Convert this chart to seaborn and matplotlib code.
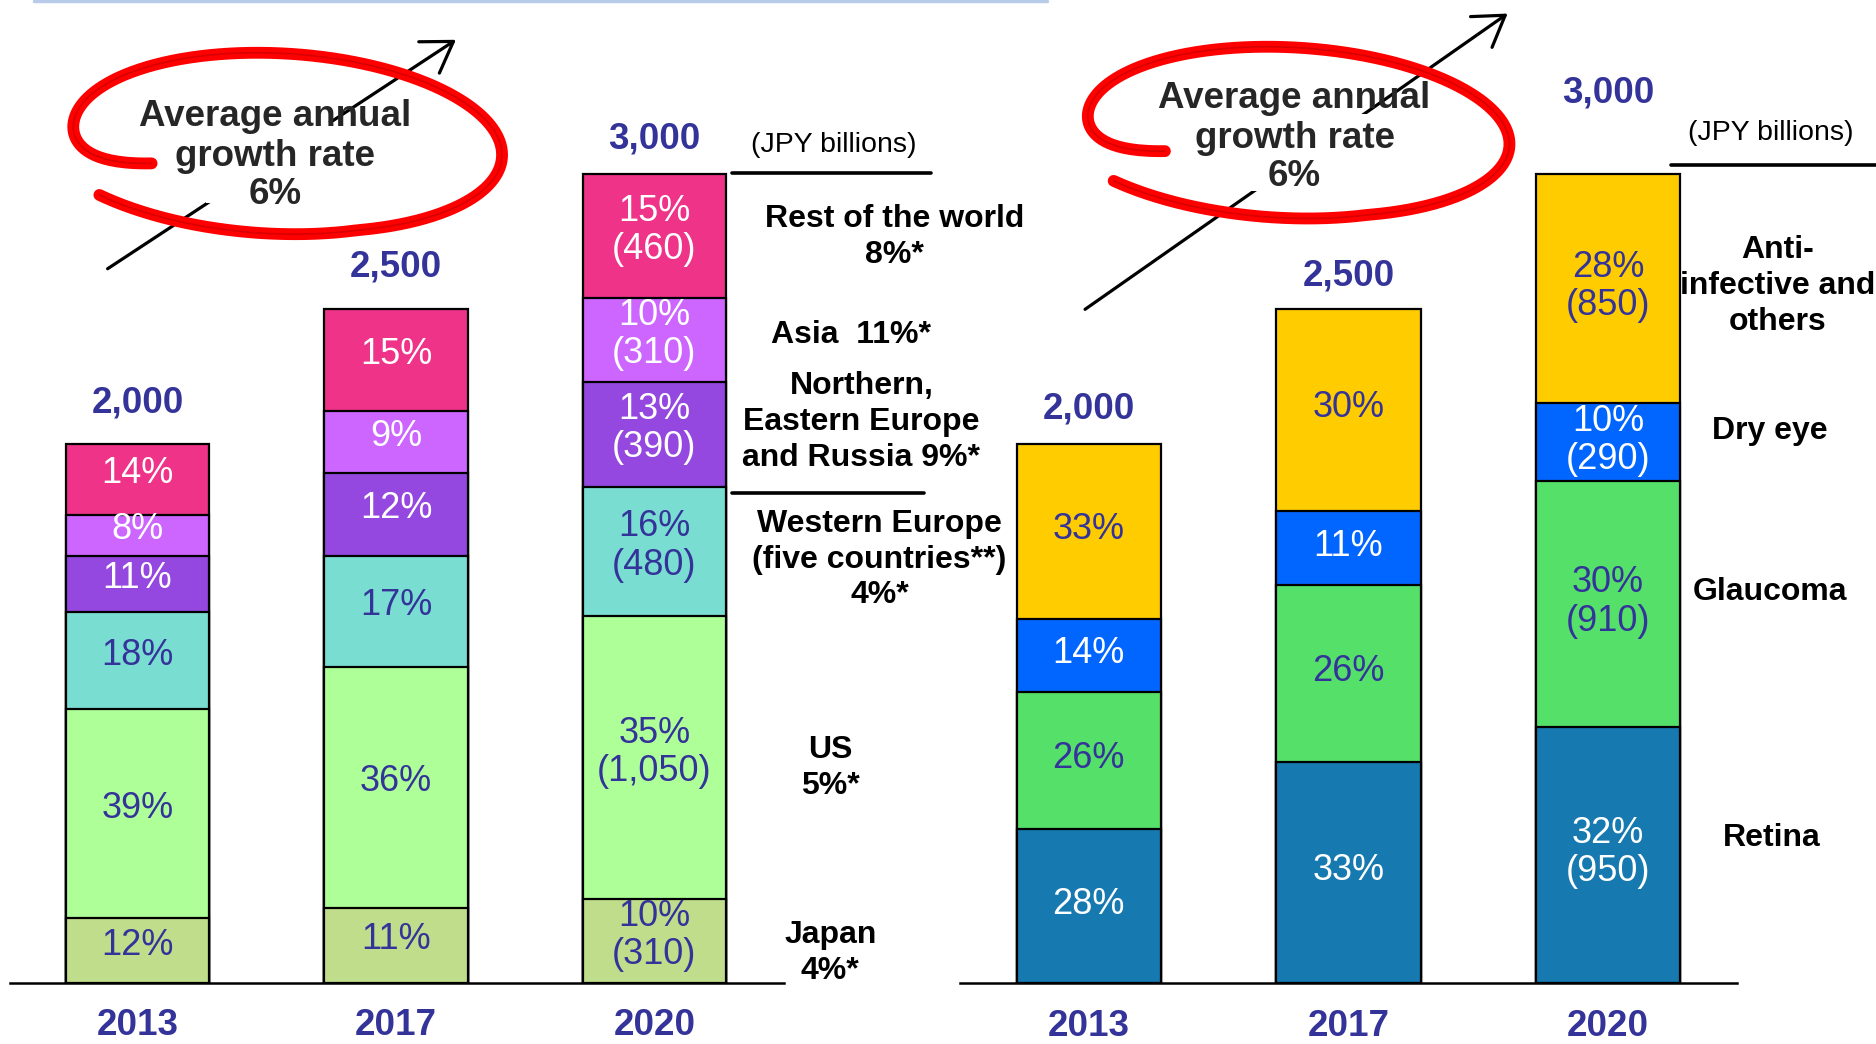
import numpy as np
import pandas as pd
import seaborn as sns
import matplotlib
matplotlib.use("Agg")
import matplotlib.pyplot as plt
from matplotlib import font_manager as fm
from matplotlib.lines import Line2D
from matplotlib.patches import FancyArrowPatch, Rectangle

# ---------------- data ----------------
years = ["2013", "2017", "2020"]
totals = [2000, 2500, 3000]
total_labels = ["2,000", "2,500", "3,000"]

# Left panel: market by region (JPY billions)
region_names = ["Japan", "US", "Western Europe",
                "Northern, Eastern Europe and Russia", "Asia", "Rest of the world"]
japan = [240, 280, 310]
us = [775, 890, 1050]
western_europe = [360, 415, 480]
northern_eastern_europe_russia = [210, 305, 390]
asia = [150, 230, 310]
rest_of_world = [265, 380, 460]
region_values = [japan, us, western_europe, northern_eastern_europe_russia, asia, rest_of_world]
region_labels = [
    ["12%", "11%", "10%\n(310)"],
    ["39%", "36%", "35%\n(1,050)"],
    ["18%", "17%", "16%\n(480)"],
    ["11%", "12%", "13%\n(390)"],
    ["8%", "9%", "10%\n(310)"],
    ["14%", "15%", "15%\n(460)"],
]
region_notes = ["Japan\n4%*", "US\n5%*", "Western Europe\n(five countries**)\n4%*",
                "Northern,\nEastern Europe\nand Russia 9%*", "Asia  11%*",
                "Rest of the world\n8%*"]

# Right panel: market by disease area (JPY billions)
disease_names = ["Retina", "Glaucoma", "Dry eye", "Anti-infective and others"]
retina = [570, 820, 950]
glaucoma = [510, 655, 910]
dry_eye = [270, 275, 290]
anti_infective_others = [650, 750, 850]
disease_values = [retina, glaucoma, dry_eye, anti_infective_others]
disease_labels = [
    ["28%", "33%", "32%\n(950)"],
    ["26%", "26%", "30%\n(910)"],
    ["14%", "11%", "10%\n(290)"],
    ["33%", "30%", "28%\n(850)"],
]
disease_notes = ["Retina", "Glaucoma", "Dry eye", "Anti-\ninfective and\nothers"]

growth_text_top = "Average annual"
growth_text_rest = "growth rate\n6%"
unit_text = "(JPY billions)"

# ---------------- style ----------------
region_colors = ["#C0DD8C", "#AEFF98", "#7ADDD2", "#9448E0", "#CC66FF", "#EE3388"]
region_text_colors = ["#333399", "#333399", "#333399", "white", "white", "white"]
disease_colors = ["#1679B0", "#55E06A", "#0066FF", "#FFCC00"]
disease_text_colors = ["white", "#333399", "white", "#333399"]
NAVY = "#333399"

sns.set_theme(style="white")
plt.rcParams["font.family"] = ["Liberation Sans", "DejaVu Sans"]

names = {f.name for f in fm.fontManager.ttflist}
NARROW = "Liberation Sans Narrow" in names
cond_family = ["Liberation Sans Narrow", "Liberation Sans"] if NARROW else ["Liberation Sans", "DejaVu Sans"]
bar_fs = 31 if NARROW else 26
big_fs = 32 if NARROW else 26.5

W, H = 1568.0, 873.0


def P(x, y):
    return (x / W, 1 - y / H)


fig = plt.figure(figsize=(18.76, 10.44), dpi=100)
fig.patch.set_facecolor("white")

ymax = 2000 * 822 / 451
axL = fig.add_axes([8 / W, 1 - 822 / H, (655 - 8) / W, 822 / H])
axR = fig.add_axes([802 / W, 1 - 822 / H, (1452 - 802) / W, 822 / H])


def stacked(ax, values, colors, labels, text_colors, xlim, total_offsets, label_dy, tick_pad):
    cums = np.cumsum(np.array(values), axis=0)
    # draw from the top layer downwards (classic seaborn stacking)
    for k in range(len(values) - 1, -1, -1):
        df = pd.DataFrame({"year": years, "cum": cums[k]})
        sns.barplot(data=df, x="year", y="cum", color=colors[k], saturation=1,
                    width=0.556, edgecolor="black", linewidth=1.6,
                    errorbar=None, ax=ax, zorder=2)
    for k in range(len(values)):
        for i in range(len(years)):
            bottom = cums[k][i] - values[k][i]
            ax.annotate(labels[k][i], (i, bottom + values[k][i] / 2),
                        xytext=(0, label_dy), textcoords="offset points",
                        ha="center", va="center",
                        fontsize=bar_fs, color=text_colors[k], family=cond_family,
                        linespacing=1.12, zorder=5)
    for i in range(len(years)):
        ax.annotate(total_labels[i], (i, totals[i]), xytext=(0, total_offsets[i]),
                    textcoords="offset points", ha="center", va="center",
                    fontsize=big_fs, fontweight="bold", color=NAVY, family=cond_family)
    ax.set_xlim(*xlim)
    ax.set_ylim(0, ymax)
    ax.set_facecolor("none")
    for s in ["top", "left", "right"]:
        ax.spines[s].set_visible(False)
    ax.spines["bottom"].set_color("black")
    ax.spines["bottom"].set_linewidth(1.8)
    ax.set_yticks([])
    ax.set_xlabel("")
    ax.set_ylabel("")
    ax.set_xticks(range(len(years)))
    ax.set_xticklabels(years, fontsize=big_fs, fontweight="bold", color=NAVY, family=cond_family)
    ax.tick_params(axis="x", length=0, pad=tick_pad)


stacked(axL, region_values, region_colors, region_labels, region_text_colors,
        (-0.495, 2.5), [29, 30, 25], 4, 18)
stacked(axR, disease_values, disease_colors, disease_labels, disease_text_colors,
        (-0.498, 2.498), [25, 24, 58], 1.5, 19)

# ---------------- side notes ----------------
note_fs = 23
region_note_pos = [(694, 797), (694, 642), (735, 468), (720, 353), (711, 280), (748, 198)]
for txt, (x, y) in zip(region_notes, region_note_pos):
    fig.text(*P(x, y), txt, ha="center", va="center", fontsize=note_fs,
             fontweight="bold", color="black", linespacing=1.25)
disease_note_pos = [(1481, 701), (1479, 495), (1479, 360), (1486, 239)]
for txt, (x, y) in zip(disease_notes, disease_note_pos):
    fig.text(*P(x, y), txt, ha="center", va="center", fontsize=note_fs,
             fontweight="bold", color="black", linespacing=1.25)

fig.text(*P(697, 121), unit_text, ha="center", va="center", fontsize=20.5, color="black")
fig.text(*P(1480, 111), unit_text, ha="center", va="center", fontsize=20.5, color="black")

for (x1, y1, x2, y2) in [(612, 145, 778, 145), (612, 412, 772, 412), (1397, 138, 1568, 138)]:
    a, b = P(x1, y1), P(x2, y2)
    fig.add_artist(Line2D([a[0], b[0]], [a[1], b[1]], transform=fig.transFigure,
                          color="black", lw=2.6))

# faint title rule at very top
a, b = P(28, 1), P(875, 1)
fig.add_artist(Line2D([a[0], b[0]], [a[1], b[1]], transform=fig.transFigure,
                      color="#B8CCEA", lw=2.5))

# ---------------- growth-rate callouts ----------------


def arrow(x1, y1, x2, y2):
    fig.add_artist(FancyArrowPatch(P(x1, y1), P(x2, y2), transform=fig.transFigure,
                                   arrowstyle="->,head_length=0.7,head_width=0.45",
                                   mutation_scale=30, lw=2.3, color="black", zorder=2))


def whitebox(x1, y1, x2, y2):
    a = P(x1, y2)
    fig.add_artist(Rectangle(a, (x2 - x1) / W, (y2 - y1) / H, transform=fig.transFigure,
                             facecolor="white", edgecolor="none", zorder=3))


def scribble(cx, cy, a, b, tilt_deg):
    n = 500
    s = np.linspace(0, 1, n)
    t = np.radians(209 - 348 * s)
    r = 1 - 0.29 * np.exp(-s / 0.02) + 0.13 * np.clip((s - 0.8) / 0.2, 0, 1)
    x = a * r * np.cos(t)
    y = b * r * np.sin(t)
    th = np.radians(-tilt_deg)
    xr = x * np.cos(th) - y * np.sin(th)
    yr = x * np.sin(th) + y * np.cos(th)
    X = (cx + xr) / W
    Y = 1 - (cy - yr) / H
    fig.add_artist(Line2D(X, Y, transform=fig.transFigure, color="#FF0000", lw=8.5,
                          solid_capstyle="round", zorder=4))
    fig.add_artist(Line2D(X, Y, transform=fig.transFigure, color="#C80000", lw=1.2,
                          alpha=0.7, zorder=4))


def callout(cx_text, y_first, dy):
    fig.text(*P(cx_text, y_first), growth_text_top, ha="center", va="center",
             fontsize=big_fs, fontweight="bold", family=cond_family, zorder=6)
    fig.text(*P(cx_text, y_first + dy * 1.5), growth_text_rest, ha="center", va="center",
             fontsize=big_fs, fontweight="bold", family=cond_family, linespacing=1.12, zorder=6)


arrow(88, 226, 383, 32)
whitebox(172, 102, 292, 170)
scribble(240, 119, 180, 74, 4)
callout(230, 97, 33)

arrow(905, 260, 1262, 10)
whitebox(1045, 95, 1150, 160)
scribble(1085, 110, 177, 70, 4)
callout(1082, 82, 33)

fig.savefig("out.png", dpi=100, facecolor="white")
